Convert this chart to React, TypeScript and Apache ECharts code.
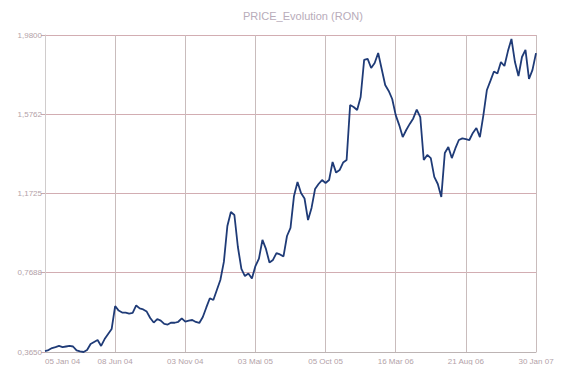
import React, { useEffect, useRef } from "react";
import * as echarts from "echarts";

const chartTitle = "PRICE_Evolution (RON)";
const xTickLabels = ["05 Jan 04", "08 Jun 04", "03 Nov 04", "03 Mai 05", "05 Oct 05", "16 Mar 06", "21 Aug 06", "30 Jan 07"];
const pointsPerTick = 20;
const yTickValues = [0.365, 0.7688, 1.1725, 1.5762, 1.98];
const priceValues = [
  0.370, 0.375, 0.385, 0.390, 0.396, 0.390, 0.393, 0.396, 0.393, 0.373,
  0.368, 0.365, 0.375, 0.406, 0.416, 0.426, 0.396, 0.431, 0.457, 0.482,
  0.599, 0.576, 0.566, 0.566, 0.561, 0.564, 0.602, 0.587, 0.582, 0.571,
  0.538, 0.515, 0.533, 0.525, 0.508, 0.505, 0.515, 0.514, 0.519, 0.536,
  0.520, 0.525, 0.528, 0.518, 0.513, 0.543, 0.592, 0.639, 0.630, 0.681,
  0.732, 0.824, 1.007, 1.078, 1.063, 0.900, 0.788, 0.752, 0.765, 0.739,
  0.803, 0.841, 0.936, 0.890, 0.821, 0.834, 0.869, 0.862, 0.852, 0.956,
  0.997, 1.160, 1.231, 1.175, 1.147, 1.037, 1.099, 1.195, 1.221, 1.241,
  1.226, 1.241, 1.333, 1.279, 1.292, 1.330, 1.343, 1.623, 1.613, 1.598,
  1.664, 1.853, 1.858, 1.812, 1.837, 1.888, 1.807, 1.725, 1.695, 1.654,
  1.572, 1.521, 1.460, 1.496, 1.527, 1.555, 1.600, 1.562, 1.343, 1.369,
  1.353, 1.257, 1.221, 1.155, 1.379, 1.409, 1.353, 1.402, 1.445, 1.453,
  1.449, 1.445, 1.481, 1.506, 1.460, 1.572, 1.700, 1.746, 1.794, 1.784,
  1.842, 1.822, 1.898, 1.960, 1.842, 1.771, 1.868, 1.904, 1.756, 1.802,
  1.888,
];

const labelColor = "#b3a2a8";
const font = "Liberation Sans";

export default function App() {
  const ref = useRef<HTMLDivElement>(null);
  useEffect(() => {
    if (!ref.current) return;
    const chart = echarts.init(ref.current, null, { renderer: "svg" });
    const categories = priceValues.map((_, i) =>
      i % pointsPerTick === 0 ? xTickLabels[i / pointsPerTick] : String(i)
    );
    chart.setOption({
      animation: false,
      backgroundColor: "#ffffff",
      title: {
        text: chartTitle,
        left: 243,
        top: 10,
        padding: 0,
        textStyle: { fontSize: 11, fontWeight: "normal", color: "#b8acba", fontFamily: font },
      },
      grid: { left: 45, right: 40, top: 35, bottom: 13, containLabel: false },
      xAxis: {
        type: "category",
        boundaryGap: false,
        data: categories,
        axisLine: { show: true, lineStyle: { color: "#bdb4b4", width: 1 } },
        axisTick: { show: false },
        axisLabel: {
          interval: pointsPerTick - 1,
          color: labelColor,
          fontSize: 8,
          fontFamily: font,
          margin: 5,
          alignMinLabel: "left",
        },
        splitLine: {
          show: true,
          interval: pointsPerTick - 1,
          lineStyle: { color: "#c9bcbc", width: 1 },
        },
      },
      yAxis: {
        type: "value",
        min: 0.365,
        max: 1.98,
        axisLine: { show: true, lineStyle: { color: "#d0cccc", width: 1 } },
        axisTick: {
          show: true,
          length: 4,
          customValues: yTickValues,
          lineStyle: { color: "#c9a8ac" },
        },
        axisLabel: {
          customValues: yTickValues,
          color: labelColor,
          fontSize: 8,
          fontFamily: font,
          margin: 3,
          formatter: (v: number) => v.toFixed(4).replace(".", ","),
        },
        splitLine: { show: true, lineStyle: { color: "#d2adb2", width: 1 } },
      },
      series: [
        {
          type: "line",
          data: priceValues,
          showSymbol: false,
          symbol: "none",
          lineStyle: { color: "#1f3b77", width: 1.8 },
        },
      ],
    });
    return () => chart.dispose();
  }, []);
  return (
    <div
      ref={ref}
      style={{ position: "fixed", left: 0, top: 0, width: 576, height: 365, background: "#fff" }}
    />
  );
}
